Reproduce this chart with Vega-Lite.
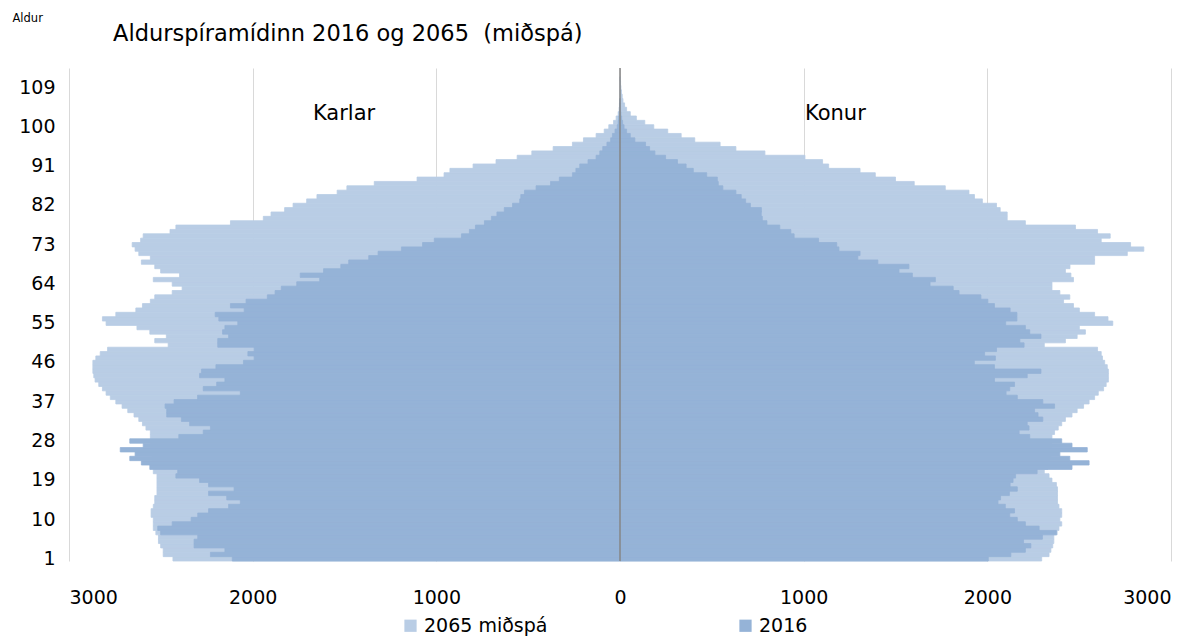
{
"$schema": "https://vega.github.io/schema/vega-lite/v6.json",
"width": 1102,
"height": 493,
"autosize": {"type": "none"},
"padding": {"left": 69, "top": 68, "right": 29, "bottom": 75},
"background": "white",
"config": {"view": {"stroke": null}, "font": "DejaVu Sans"},
"title": {"text": "Aldurspíramídinn 2016 og 2065 \u00a0(miðspá)", "anchor": "start", "dx": 101, "dy": 33, "offset": 0, "fontSize": 22.5, "fontWeight": "normal", "font": "DejaVu Sans", "color": "#000000"},
"data": {"values": [
{"age":1,"sex":"Karlar","year":"2065 miðspá","value":-2434},{"age":2,"sex":"Karlar","year":"2065 miðspá","value":-2487},{"age":3,"sex":"Karlar","year":"2065 miðspá","value":-2487},{"age":4,"sex":"Karlar","year":"2065 miðspá","value":-2501},{"age":5,"sex":"Karlar","year":"2065 miðspá","value":-2513},{"age":6,"sex":"Karlar","year":"2065 miðspá","value":-2513},{"age":7,"sex":"Karlar","year":"2065 miðspá","value":-2527},{"age":8,"sex":"Karlar","year":"2065 miðspá","value":-2541},{"age":9,"sex":"Karlar","year":"2065 miðspá","value":-2541},{"age":10,"sex":"Karlar","year":"2065 miðspá","value":-2541},
{"age":11,"sex":"Karlar","year":"2065 miðspá","value":-2553},{"age":12,"sex":"Karlar","year":"2065 miðspá","value":-2553},{"age":13,"sex":"Karlar","year":"2065 miðspá","value":-2541},{"age":14,"sex":"Karlar","year":"2065 miðspá","value":-2533},{"age":15,"sex":"Karlar","year":"2065 miðspá","value":-2533},{"age":16,"sex":"Karlar","year":"2065 miðspá","value":-2521},{"age":17,"sex":"Karlar","year":"2065 miðspá","value":-2521},{"age":18,"sex":"Karlar","year":"2065 miðspá","value":-2521},{"age":19,"sex":"Karlar","year":"2065 miðspá","value":-2521},{"age":20,"sex":"Karlar","year":"2065 miðspá","value":-2521},
{"age":21,"sex":"Karlar","year":"2065 miðspá","value":-2541},{"age":22,"sex":"Karlar","year":"2065 miðspá","value":-2530},{"age":23,"sex":"Karlar","year":"2065 miðspá","value":-2540},{"age":24,"sex":"Karlar","year":"2065 miðspá","value":-2545},{"age":25,"sex":"Karlar","year":"2065 miðspá","value":-2550},{"age":26,"sex":"Karlar","year":"2065 miðspá","value":-2555},{"age":27,"sex":"Karlar","year":"2065 miðspá","value":-2555},{"age":28,"sex":"Karlar","year":"2065 miðspá","value":-2557},{"age":29,"sex":"Karlar","year":"2065 miðspá","value":-2557},{"age":30,"sex":"Karlar","year":"2065 miðspá","value":-2557},
{"age":31,"sex":"Karlar","year":"2065 miðspá","value":-2581},{"age":32,"sex":"Karlar","year":"2065 miðspá","value":-2600},{"age":33,"sex":"Karlar","year":"2065 miðspá","value":-2620},{"age":34,"sex":"Karlar","year":"2065 miðspá","value":-2646},{"age":35,"sex":"Karlar","year":"2065 miðspá","value":-2680},{"age":36,"sex":"Karlar","year":"2065 miðspá","value":-2711},{"age":37,"sex":"Karlar","year":"2065 miðspá","value":-2745},{"age":38,"sex":"Karlar","year":"2065 miðspá","value":-2775},{"age":39,"sex":"Karlar","year":"2065 miðspá","value":-2798},{"age":40,"sex":"Karlar","year":"2065 miðspá","value":-2818},
{"age":41,"sex":"Karlar","year":"2065 miðspá","value":-2838},{"age":42,"sex":"Karlar","year":"2065 miðspá","value":-2858},{"age":43,"sex":"Karlar","year":"2065 miðspá","value":-2865},{"age":44,"sex":"Karlar","year":"2065 miðspá","value":-2870},{"age":45,"sex":"Karlar","year":"2065 miðspá","value":-2870},{"age":46,"sex":"Karlar","year":"2065 miðspá","value":-2870},{"age":47,"sex":"Karlar","year":"2065 miðspá","value":-2854},{"age":48,"sex":"Karlar","year":"2065 miðspá","value":-2830},{"age":49,"sex":"Karlar","year":"2065 miðspá","value":-2790},{"age":50,"sex":"Karlar","year":"2065 miðspá","value":-2460},
{"age":51,"sex":"Karlar","year":"2065 miðspá","value":-2533},{"age":52,"sex":"Karlar","year":"2065 miðspá","value":-2470},{"age":53,"sex":"Karlar","year":"2065 miðspá","value":-2560},{"age":54,"sex":"Karlar","year":"2065 miðspá","value":-2630},{"age":55,"sex":"Karlar","year":"2065 miðspá","value":-2798},{"age":56,"sex":"Karlar","year":"2065 miðspá","value":-2818},{"age":57,"sex":"Karlar","year":"2065 miðspá","value":-2745},{"age":58,"sex":"Karlar","year":"2065 miðspá","value":-2636},{"age":59,"sex":"Karlar","year":"2065 miðspá","value":-2600},{"age":60,"sex":"Karlar","year":"2065 miðspá","value":-2557},
{"age":61,"sex":"Karlar","year":"2065 miðspá","value":-2533},{"age":62,"sex":"Karlar","year":"2065 miðspá","value":-2438},{"age":63,"sex":"Karlar","year":"2065 miðspá","value":-2384},{"age":64,"sex":"Karlar","year":"2065 miðspá","value":-2438},{"age":65,"sex":"Karlar","year":"2065 miðspá","value":-2541},{"age":66,"sex":"Karlar","year":"2065 miðspá","value":-2398},{"age":67,"sex":"Karlar","year":"2065 miðspá","value":-2501},{"age":68,"sex":"Karlar","year":"2065 miðspá","value":-2533},{"age":69,"sex":"Karlar","year":"2065 miðspá","value":-2606},{"age":70,"sex":"Karlar","year":"2065 miðspá","value":-2557},
{"age":71,"sex":"Karlar","year":"2065 miðspá","value":-2620},{"age":72,"sex":"Karlar","year":"2065 miðspá","value":-2640},{"age":73,"sex":"Karlar","year":"2065 miðspá","value":-2656},{"age":74,"sex":"Karlar","year":"2065 miðspá","value":-2610},{"age":75,"sex":"Karlar","year":"2065 miðspá","value":-2596},{"age":76,"sex":"Karlar","year":"2065 miðspá","value":-2450},{"age":77,"sex":"Karlar","year":"2065 miðspá","value":-2418},{"age":78,"sex":"Karlar","year":"2065 miðspá","value":-2121},{"age":79,"sex":"Karlar","year":"2065 miðspá","value":-1942},{"age":80,"sex":"Karlar","year":"2065 miðspá","value":-1900},
{"age":81,"sex":"Karlar","year":"2065 miðspá","value":-1826},{"age":82,"sex":"Karlar","year":"2065 miðspá","value":-1780},{"age":83,"sex":"Karlar","year":"2065 miðspá","value":-1706},{"age":84,"sex":"Karlar","year":"2065 miðspá","value":-1650},{"age":85,"sex":"Karlar","year":"2065 miðspá","value":-1540},{"age":86,"sex":"Karlar","year":"2065 miðspá","value":-1487},{"age":87,"sex":"Karlar","year":"2065 miðspá","value":-1338},{"age":88,"sex":"Karlar","year":"2065 miðspá","value":-1105},{"age":89,"sex":"Karlar","year":"2065 miðspá","value":-958},{"age":90,"sex":"Karlar","year":"2065 miðspá","value":-926},
{"age":91,"sex":"Karlar","year":"2065 miðspá","value":-800},{"age":92,"sex":"Karlar","year":"2065 miðspá","value":-675},{"age":93,"sex":"Karlar","year":"2065 miðspá","value":-560},{"age":94,"sex":"Karlar","year":"2065 miðspá","value":-480},{"age":95,"sex":"Karlar","year":"2065 miðspá","value":-364},{"age":96,"sex":"Karlar","year":"2065 miðspá","value":-259},{"age":97,"sex":"Karlar","year":"2065 miðspá","value":-199},{"age":98,"sex":"Karlar","year":"2065 miðspá","value":-130},{"age":99,"sex":"Karlar","year":"2065 miðspá","value":-86},{"age":100,"sex":"Karlar","year":"2065 miðspá","value":-61},
{"age":101,"sex":"Karlar","year":"2065 miðspá","value":-35},{"age":102,"sex":"Karlar","year":"2065 miðspá","value":-21},{"age":103,"sex":"Karlar","year":"2065 miðspá","value":-10},{"age":104,"sex":"Karlar","year":"2065 miðspá","value":-5},{"age":105,"sex":"Karlar","year":"2065 miðspá","value":-3},{"age":106,"sex":"Karlar","year":"2065 miðspá","value":-1},
{"age":1,"sex":"Konur","year":"2065 miðspá","value":2296},{"age":2,"sex":"Konur","year":"2065 miðspá","value":2336},{"age":3,"sex":"Konur","year":"2065 miðspá","value":2346},{"age":4,"sex":"Konur","year":"2065 miðspá","value":2356},{"age":5,"sex":"Konur","year":"2065 miðspá","value":2362},{"age":6,"sex":"Konur","year":"2065 miðspá","value":2362},{"age":7,"sex":"Konur","year":"2065 miðspá","value":2380},{"age":8,"sex":"Konur","year":"2065 miðspá","value":2390},{"age":9,"sex":"Konur","year":"2065 miðspá","value":2405},{"age":10,"sex":"Konur","year":"2065 miðspá","value":2395},
{"age":11,"sex":"Konur","year":"2065 miðspá","value":2405},{"age":12,"sex":"Konur","year":"2065 miðspá","value":2405},{"age":13,"sex":"Konur","year":"2065 miðspá","value":2390},{"age":14,"sex":"Konur","year":"2065 miðspá","value":2382},{"age":15,"sex":"Konur","year":"2065 miðspá","value":2382},{"age":16,"sex":"Konur","year":"2065 miðspá","value":2382},{"age":17,"sex":"Konur","year":"2065 miðspá","value":2382},{"age":18,"sex":"Konur","year":"2065 miðspá","value":2376},{"age":19,"sex":"Konur","year":"2065 miðspá","value":2352},{"age":20,"sex":"Konur","year":"2065 miðspá","value":2336},
{"age":21,"sex":"Konur","year":"2065 miðspá","value":2310},{"age":22,"sex":"Konur","year":"2065 miðspá","value":2330},{"age":23,"sex":"Konur","year":"2065 miðspá","value":2340},{"age":24,"sex":"Konur","year":"2065 miðspá","value":2340},{"age":25,"sex":"Konur","year":"2065 miðspá","value":2345},{"age":26,"sex":"Konur","year":"2065 miðspá","value":2345},{"age":27,"sex":"Konur","year":"2065 miðspá","value":2350},{"age":28,"sex":"Konur","year":"2065 miðspá","value":2350},{"age":29,"sex":"Konur","year":"2065 miðspá","value":2352},{"age":30,"sex":"Konur","year":"2065 miðspá","value":2366},
{"age":31,"sex":"Konur","year":"2065 miðspá","value":2386},{"age":32,"sex":"Konur","year":"2065 miðspá","value":2405},{"age":33,"sex":"Konur","year":"2065 miðspá","value":2425},{"age":34,"sex":"Konur","year":"2065 miðspá","value":2461},{"age":35,"sex":"Konur","year":"2065 miðspá","value":2489},{"age":36,"sex":"Konur","year":"2065 miðspá","value":2524},{"age":37,"sex":"Konur","year":"2065 miðspá","value":2554},{"age":38,"sex":"Konur","year":"2065 miðspá","value":2584},{"age":39,"sex":"Konur","year":"2065 miðspá","value":2604},{"age":40,"sex":"Konur","year":"2065 miðspá","value":2633},
{"age":41,"sex":"Konur","year":"2065 miðspá","value":2647},{"age":42,"sex":"Konur","year":"2065 miðspá","value":2659},{"age":43,"sex":"Konur","year":"2065 miðspá","value":2659},{"age":44,"sex":"Konur","year":"2065 miðspá","value":2659},{"age":45,"sex":"Konur","year":"2065 miðspá","value":2653},{"age":46,"sex":"Konur","year":"2065 miðspá","value":2639},{"age":47,"sex":"Konur","year":"2065 miðspá","value":2627},{"age":48,"sex":"Konur","year":"2065 miðspá","value":2620},{"age":49,"sex":"Konur","year":"2065 miðspá","value":2600},{"age":50,"sex":"Konur","year":"2065 miðspá","value":2310},
{"age":51,"sex":"Konur","year":"2065 miðspá","value":2425},{"age":52,"sex":"Konur","year":"2065 miðspá","value":2489},{"age":53,"sex":"Konur","year":"2065 miðspá","value":2534},{"age":54,"sex":"Konur","year":"2065 miðspá","value":2501},{"age":55,"sex":"Konur","year":"2065 miðspá","value":2683},{"age":56,"sex":"Konur","year":"2065 miðspá","value":2657},{"age":57,"sex":"Konur","year":"2065 miðspá","value":2584},{"age":58,"sex":"Konur","year":"2065 miðspá","value":2501},{"age":59,"sex":"Konur","year":"2065 miðspá","value":2469},{"age":60,"sex":"Konur","year":"2065 miðspá","value":2415},
{"age":61,"sex":"Konur","year":"2065 miðspá","value":2449},{"age":62,"sex":"Konur","year":"2065 miðspá","value":2395},{"age":63,"sex":"Konur","year":"2065 miðspá","value":2352},{"age":64,"sex":"Konur","year":"2065 miðspá","value":2352},{"age":65,"sex":"Konur","year":"2065 miðspá","value":2469},{"age":66,"sex":"Konur","year":"2065 miðspá","value":2455},{"age":67,"sex":"Konur","year":"2065 miðspá","value":2425},{"age":68,"sex":"Konur","year":"2065 miðspá","value":2450},{"age":69,"sex":"Konur","year":"2065 miðspá","value":2584},{"age":70,"sex":"Konur","year":"2065 miðspá","value":2584},
{"age":71,"sex":"Konur","year":"2065 miðspá","value":2762},{"age":72,"sex":"Konur","year":"2065 miðspá","value":2852},{"age":73,"sex":"Konur","year":"2065 miðspá","value":2780},{"age":74,"sex":"Konur","year":"2065 miðspá","value":2620},{"age":75,"sex":"Konur","year":"2065 miðspá","value":2669},{"age":76,"sex":"Konur","year":"2065 miðspá","value":2600},{"age":77,"sex":"Konur","year":"2065 miðspá","value":2480},{"age":78,"sex":"Konur","year":"2065 miðspá","value":2207},{"age":79,"sex":"Konur","year":"2065 miðspá","value":2108},{"age":80,"sex":"Konur","year":"2065 miðspá","value":2108},
{"age":81,"sex":"Konur","year":"2065 miðspá","value":2070},{"age":82,"sex":"Konur","year":"2065 miðspá","value":2050},{"age":83,"sex":"Konur","year":"2065 miðspá","value":1973},{"age":84,"sex":"Konur","year":"2065 miðspá","value":1930},{"age":85,"sex":"Konur","year":"2065 miðspá","value":1900},{"age":86,"sex":"Konur","year":"2065 miðspá","value":1771},{"age":87,"sex":"Konur","year":"2065 miðspá","value":1602},{"age":88,"sex":"Konur","year":"2065 miðspá","value":1500},{"age":89,"sex":"Konur","year":"2065 miðspá","value":1390},{"age":90,"sex":"Konur","year":"2065 miðspá","value":1307},
{"age":91,"sex":"Konur","year":"2065 miðspá","value":1136},{"age":92,"sex":"Konur","year":"2065 miðspá","value":1103},{"age":93,"sex":"Konur","year":"2065 miðspá","value":1007},{"age":94,"sex":"Konur","year":"2065 miðspá","value":789},{"age":95,"sex":"Konur","year":"2065 miðspá","value":631},{"age":96,"sex":"Konur","year":"2065 miðspá","value":545},{"age":97,"sex":"Konur","year":"2065 miðspá","value":407},{"age":98,"sex":"Konur","year":"2065 miðspá","value":333},{"age":99,"sex":"Konur","year":"2065 miðspá","value":260},{"age":100,"sex":"Konur","year":"2065 miðspá","value":184},
{"age":101,"sex":"Konur","year":"2065 miðspá","value":135},{"age":102,"sex":"Konur","year":"2065 miðspá","value":89},{"age":103,"sex":"Konur","year":"2065 miðspá","value":56},{"age":104,"sex":"Konur","year":"2065 miðspá","value":36},{"age":105,"sex":"Konur","year":"2065 miðspá","value":25},{"age":106,"sex":"Konur","year":"2065 miðspá","value":16},{"age":107,"sex":"Konur","year":"2065 miðspá","value":12},{"age":108,"sex":"Konur","year":"2065 miðspá","value":8},{"age":109,"sex":"Konur","year":"2065 miðspá","value":5},{"age":110,"sex":"Konur","year":"2065 miðspá","value":3},{"age":111,"sex":"Konur","year":"2065 miðspá","value":1},
{"age":1,"sex":"Karlar","year":"2016","value":-2111},{"age":2,"sex":"Karlar","year":"2016","value":-2230},{"age":3,"sex":"Karlar","year":"2016","value":-2151},{"age":4,"sex":"Karlar","year":"2016","value":-2319},{"age":5,"sex":"Karlar","year":"2016","value":-2319},{"age":6,"sex":"Karlar","year":"2016","value":-2299},{"age":7,"sex":"Karlar","year":"2016","value":-2501},{"age":8,"sex":"Karlar","year":"2016","value":-2517},{"age":9,"sex":"Karlar","year":"2016","value":-2438},{"age":10,"sex":"Karlar","year":"2016","value":-2335},
{"age":11,"sex":"Karlar","year":"2016","value":-2299},{"age":12,"sex":"Karlar","year":"2016","value":-2240},{"age":13,"sex":"Karlar","year":"2016","value":-2131},{"age":14,"sex":"Karlar","year":"2016","value":-2067},{"age":15,"sex":"Karlar","year":"2016","value":-2141},{"age":16,"sex":"Karlar","year":"2016","value":-2240},{"age":17,"sex":"Karlar","year":"2016","value":-2101},{"age":18,"sex":"Karlar","year":"2016","value":-2240},{"age":19,"sex":"Karlar","year":"2016","value":-2289},{"age":20,"sex":"Karlar","year":"2016","value":-2418},
{"age":21,"sex":"Karlar","year":"2016","value":-2408},{"age":22,"sex":"Karlar","year":"2016","value":-2560},{"age":23,"sex":"Karlar","year":"2016","value":-2606},{"age":24,"sex":"Karlar","year":"2016","value":-2669},{"age":25,"sex":"Karlar","year":"2016","value":-2640},{"age":26,"sex":"Karlar","year":"2016","value":-2721},{"age":27,"sex":"Karlar","year":"2016","value":-2596},{"age":28,"sex":"Karlar","year":"2016","value":-2669},{"age":29,"sex":"Karlar","year":"2016","value":-2402},{"age":30,"sex":"Karlar","year":"2016","value":-2269},
{"age":31,"sex":"Karlar","year":"2016","value":-2230},{"age":32,"sex":"Karlar","year":"2016","value":-2343},{"age":33,"sex":"Karlar","year":"2016","value":-2388},{"age":34,"sex":"Karlar","year":"2016","value":-2468},{"age":35,"sex":"Karlar","year":"2016","value":-2468},{"age":36,"sex":"Karlar","year":"2016","value":-2477},{"age":37,"sex":"Karlar","year":"2016","value":-2428},{"age":38,"sex":"Karlar","year":"2016","value":-2300},{"age":39,"sex":"Karlar","year":"2016","value":-2067},{"age":40,"sex":"Karlar","year":"2016","value":-2269},
{"age":41,"sex":"Karlar","year":"2016","value":-2196},{"age":42,"sex":"Karlar","year":"2016","value":-2151},{"age":43,"sex":"Karlar","year":"2016","value":-2289},{"age":44,"sex":"Karlar","year":"2016","value":-2279},{"age":45,"sex":"Karlar","year":"2016","value":-2200},{"age":46,"sex":"Karlar","year":"2016","value":-2050},{"age":47,"sex":"Karlar","year":"2016","value":-1992},{"age":48,"sex":"Karlar","year":"2016","value":-2026},{"age":49,"sex":"Karlar","year":"2016","value":-1992},{"age":50,"sex":"Karlar","year":"2016","value":-2190},
{"age":51,"sex":"Karlar","year":"2016","value":-2190},{"age":52,"sex":"Karlar","year":"2016","value":-2131},{"age":53,"sex":"Karlar","year":"2016","value":-2164},{"age":54,"sex":"Karlar","year":"2016","value":-2151},{"age":55,"sex":"Karlar","year":"2016","value":-2081},{"age":56,"sex":"Karlar","year":"2016","value":-2184},{"age":57,"sex":"Karlar","year":"2016","value":-2204},{"age":58,"sex":"Karlar","year":"2016","value":-2046},{"age":59,"sex":"Karlar","year":"2016","value":-2121},{"age":60,"sex":"Karlar","year":"2016","value":-2036},
{"age":61,"sex":"Karlar","year":"2016","value":-1920},{"age":62,"sex":"Karlar","year":"2016","value":-1878},{"age":63,"sex":"Karlar","year":"2016","value":-1844},{"age":64,"sex":"Karlar","year":"2016","value":-1760},{"age":65,"sex":"Karlar","year":"2016","value":-1635},{"age":66,"sex":"Karlar","year":"2016","value":-1741},{"age":67,"sex":"Karlar","year":"2016","value":-1614},{"age":68,"sex":"Karlar","year":"2016","value":-1520},{"age":69,"sex":"Karlar","year":"2016","value":-1477},{"age":70,"sex":"Karlar","year":"2016","value":-1368},
{"age":71,"sex":"Karlar","year":"2016","value":-1317},{"age":72,"sex":"Karlar","year":"2016","value":-1190},{"age":73,"sex":"Karlar","year":"2016","value":-1075},{"age":74,"sex":"Karlar","year":"2016","value":-1011},{"age":75,"sex":"Karlar","year":"2016","value":-863},{"age":76,"sex":"Karlar","year":"2016","value":-820},{"age":77,"sex":"Karlar","year":"2016","value":-787},{"age":78,"sex":"Karlar","year":"2016","value":-738},{"age":79,"sex":"Karlar","year":"2016","value":-700},{"age":80,"sex":"Karlar","year":"2016","value":-670},
{"age":81,"sex":"Karlar","year":"2016","value":-630},{"age":82,"sex":"Karlar","year":"2016","value":-585},{"age":83,"sex":"Karlar","year":"2016","value":-546},{"age":84,"sex":"Karlar","year":"2016","value":-540},{"age":85,"sex":"Karlar","year":"2016","value":-520},{"age":86,"sex":"Karlar","year":"2016","value":-457},{"age":87,"sex":"Karlar","year":"2016","value":-378},{"age":88,"sex":"Karlar","year":"2016","value":-330},{"age":89,"sex":"Karlar","year":"2016","value":-259},{"age":90,"sex":"Karlar","year":"2016","value":-240},
{"age":91,"sex":"Karlar","year":"2016","value":-219},{"age":92,"sex":"Karlar","year":"2016","value":-174},{"age":93,"sex":"Karlar","year":"2016","value":-130},{"age":94,"sex":"Karlar","year":"2016","value":-110},{"age":95,"sex":"Karlar","year":"2016","value":-94},{"age":96,"sex":"Karlar","year":"2016","value":-71},{"age":97,"sex":"Karlar","year":"2016","value":-51},{"age":98,"sex":"Karlar","year":"2016","value":-41},{"age":99,"sex":"Karlar","year":"2016","value":-27},{"age":100,"sex":"Karlar","year":"2016","value":-15},
{"age":101,"sex":"Karlar","year":"2016","value":-10},{"age":102,"sex":"Karlar","year":"2016","value":-7},{"age":103,"sex":"Karlar","year":"2016","value":-4},{"age":104,"sex":"Karlar","year":"2016","value":-2},{"age":105,"sex":"Karlar","year":"2016","value":-1},
{"age":1,"sex":"Konur","year":"2016","value":2005},{"age":2,"sex":"Konur","year":"2016","value":2128},{"age":3,"sex":"Konur","year":"2016","value":2207},{"age":4,"sex":"Konur","year":"2016","value":2237},{"age":5,"sex":"Konur","year":"2016","value":2197},{"age":6,"sex":"Konur","year":"2016","value":2300},{"age":7,"sex":"Konur","year":"2016","value":2376},{"age":8,"sex":"Konur","year":"2016","value":2282},{"age":9,"sex":"Konur","year":"2016","value":2207},{"age":10,"sex":"Konur","year":"2016","value":2163},
{"age":11,"sex":"Konur","year":"2016","value":2122},{"age":12,"sex":"Konur","year":"2016","value":2148},{"age":13,"sex":"Konur","year":"2016","value":2098},{"age":14,"sex":"Konur","year":"2016","value":2058},{"age":15,"sex":"Konur","year":"2016","value":2072},{"age":16,"sex":"Konur","year":"2016","value":2120},{"age":17,"sex":"Konur","year":"2016","value":2163},{"age":18,"sex":"Konur","year":"2016","value":2124},{"age":19,"sex":"Konur","year":"2016","value":2140},{"age":20,"sex":"Konur","year":"2016","value":2154},
{"age":21,"sex":"Konur","year":"2016","value":2271},{"age":22,"sex":"Konur","year":"2016","value":2461},{"age":23,"sex":"Konur","year":"2016","value":2554},{"age":24,"sex":"Konur","year":"2016","value":2449},{"age":25,"sex":"Konur","year":"2016","value":2395},{"age":26,"sex":"Konur","year":"2016","value":2544},{"age":27,"sex":"Konur","year":"2016","value":2461},{"age":28,"sex":"Konur","year":"2016","value":2405},{"age":29,"sex":"Konur","year":"2016","value":2231},{"age":30,"sex":"Konur","year":"2016","value":2173},
{"age":31,"sex":"Konur","year":"2016","value":2227},{"age":32,"sex":"Konur","year":"2016","value":2217},{"age":33,"sex":"Konur","year":"2016","value":2302},{"age":34,"sex":"Konur","year":"2016","value":2276},{"age":35,"sex":"Konur","year":"2016","value":2257},{"age":36,"sex":"Konur","year":"2016","value":2366},{"age":37,"sex":"Konur","year":"2016","value":2302},{"age":38,"sex":"Konur","year":"2016","value":2163},{"age":39,"sex":"Konur","year":"2016","value":2102},{"age":40,"sex":"Konur","year":"2016","value":2122},
{"age":41,"sex":"Konur","year":"2016","value":2148},{"age":42,"sex":"Konur","year":"2016","value":2039},{"age":43,"sex":"Konur","year":"2016","value":2217},{"age":44,"sex":"Konur","year":"2016","value":2292},{"age":45,"sex":"Konur","year":"2016","value":2039},{"age":46,"sex":"Konur","year":"2016","value":1929},{"age":47,"sex":"Konur","year":"2016","value":2044},{"age":48,"sex":"Konur","year":"2016","value":1985},{"age":49,"sex":"Konur","year":"2016","value":2050},{"age":50,"sex":"Konur","year":"2016","value":2200},
{"age":51,"sex":"Konur","year":"2016","value":2177},{"age":52,"sex":"Konur","year":"2016","value":2292},{"age":53,"sex":"Konur","year":"2016","value":2231},{"age":54,"sex":"Konur","year":"2016","value":2207},{"age":55,"sex":"Konur","year":"2016","value":2100},{"age":56,"sex":"Konur","year":"2016","value":2161},{"age":57,"sex":"Konur","year":"2016","value":2161},{"age":58,"sex":"Konur","year":"2016","value":2124},{"age":59,"sex":"Konur","year":"2016","value":2039},{"age":60,"sex":"Konur","year":"2016","value":2003},
{"age":61,"sex":"Konur","year":"2016","value":1965},{"age":62,"sex":"Konur","year":"2016","value":1846},{"age":63,"sex":"Konur","year":"2016","value":1814},{"age":64,"sex":"Konur","year":"2016","value":1688},{"age":65,"sex":"Konur","year":"2016","value":1717},{"age":66,"sex":"Konur","year":"2016","value":1592},{"age":67,"sex":"Konur","year":"2016","value":1519},{"age":68,"sex":"Konur","year":"2016","value":1573},{"age":69,"sex":"Konur","year":"2016","value":1404},{"age":70,"sex":"Konur","year":"2016","value":1295},
{"age":71,"sex":"Konur","year":"2016","value":1307},{"age":72,"sex":"Konur","year":"2016","value":1192},{"age":73,"sex":"Konur","year":"2016","value":1180},{"age":74,"sex":"Konur","year":"2016","value":1081},{"age":75,"sex":"Konur","year":"2016","value":948},{"age":76,"sex":"Konur","year":"2016","value":930},{"age":77,"sex":"Konur","year":"2016","value":870},{"age":78,"sex":"Konur","year":"2016","value":800},{"age":79,"sex":"Konur","year":"2016","value":775},{"age":80,"sex":"Konur","year":"2016","value":769},
{"age":81,"sex":"Konur","year":"2016","value":770},{"age":82,"sex":"Konur","year":"2016","value":710},{"age":83,"sex":"Konur","year":"2016","value":684},{"age":84,"sex":"Konur","year":"2016","value":660},{"age":85,"sex":"Konur","year":"2016","value":631},{"age":86,"sex":"Konur","year":"2016","value":560},{"age":87,"sex":"Konur","year":"2016","value":535},{"age":88,"sex":"Konur","year":"2016","value":530},{"age":89,"sex":"Konur","year":"2016","value":472},{"age":90,"sex":"Konur","year":"2016","value":399},
{"age":91,"sex":"Konur","year":"2016","value":360},{"age":92,"sex":"Konur","year":"2016","value":313},{"age":93,"sex":"Konur","year":"2016","value":248},{"age":94,"sex":"Konur","year":"2016","value":190},{"age":95,"sex":"Konur","year":"2016","value":161},{"age":96,"sex":"Konur","year":"2016","value":139},{"age":97,"sex":"Konur","year":"2016","value":81},{"age":98,"sex":"Konur","year":"2016","value":56},{"age":99,"sex":"Konur","year":"2016","value":36},{"age":100,"sex":"Konur","year":"2016","value":22},
{"age":101,"sex":"Konur","year":"2016","value":14},{"age":102,"sex":"Konur","year":"2016","value":9},{"age":103,"sex":"Konur","year":"2016","value":5},{"age":104,"sex":"Konur","year":"2016","value":3},{"age":105,"sex":"Konur","year":"2016","value":2},{"age":106,"sex":"Konur","year":"2016","value":1}
]},
"layer": [
{
"transform": [{"filter": "datum.year === '2065 miðspá'"}],
"mark": {"type": "bar", "stroke": "#b9cde5", "strokeWidth": 0.8},
"encoding": {
"y": {"field": "age", "type": "ordinal",
"scale": {"domain": [113,112,111,110,109,108,107,106,105,104,103,102,101,100,99,98,97,96,95,94,93,92,91,90,89,88,87,86,85,84,83,82,81,80,79,78,77,76,75,74,73,72,71,70,69,68,67,66,65,64,63,62,61,60,59,58,57,56,55,54,53,52,51,50,49,48,47,46,45,44,43,42,41,40,39,38,37,36,35,34,33,32,31,30,29,28,27,26,25,24,23,22,21,20,19,18,17,16,15,14,13,12,11,10,9,8,7,6,5,4,3,2,1], "paddingInner": 0, "paddingOuter": 0},
"axis": {"values": [1,10,19,28,37,46,55,64,73,82,91,100,109], "ticks": false, "domain": false, "labelFontSize": 19, "labelColor": "#000000", "labelPadding": 14, "labelFont": "DejaVu Sans",
"title": "Aldur", "titleAngle": 0, "titleFontSize": 11.5, "titleFontWeight": "normal", "titleFont": "DejaVu Sans", "titleColor": "#000000", "titleAlign": "left", "titleBaseline": "top", "titleX": -57, "titleY": -56}},
"x": {"field": "value", "type": "quantitative", "stack": null,
"scale": {"domain": [-3000, 3000], "nice": false},
"axis": {"values": [-3000,-2000,-1000,0,1000,2000,3000], "labelExpr": "format(abs(datum.value), 'd')", "grid": true, "gridColor": "#d9d9d9", "gridWidth": 1, "ticks": false, "domain": false, "labelFontSize": 19, "labelColor": "#000000", "labelPadding": 27, "labelFont": "DejaVu Sans", "title": null}},
"color": {"field": "year", "type": "nominal",
"scale": {"domain": ["2065 miðspá", "2016"], "range": ["#b9cde5", "#95b3d7"]},
"legend": {"orient": "none", "legendX": 332, "legendY": 548, "direction": "horizontal", "title": null, "symbolType": "square", "symbolSize": 150, "symbolStrokeWidth": 0, "labelFontSize": 19, "labelFont": "DejaVu Sans", "labelColor": "#000000", "columnPadding": 188,
"encode": {"symbols": {"update": {"fill": {"signal": "datum.value === '2016' ? '#4a72a8' : '#95b3d7'"}, "stroke": {"value": "transparent"}}}}}}
}
},
{
"transform": [{"filter": "datum.year === '2016'"}],
"mark": {"type": "bar", "stroke": "#95b3d7", "strokeWidth": 0.8},
"encoding": {
"y": {"field": "age", "type": "ordinal"},
"x": {"field": "value", "type": "quantitative", "stack": null},
"color": {"field": "year", "type": "nominal"}
}
},
{
"data": {"values": [{"value": 0}]},
"mark": {"type": "rule", "color": "#868686", "strokeWidth": 1.5},
"encoding": {"x": {"field": "value", "type": "quantitative"}}
},
{
"data": {"values": [{"label": "Karlar", "value": -1672, "age": 103}, {"label": "Konur", "value": 1007, "age": 103}]},
"mark": {"type": "text", "align": "left", "baseline": "middle", "fontSize": 21, "font": "DejaVu Sans", "color": "#000000"},
"encoding": {
"x": {"field": "value", "type": "quantitative"},
"y": {"field": "age", "type": "ordinal"},
"text": {"field": "label"}
}
}
]
}
